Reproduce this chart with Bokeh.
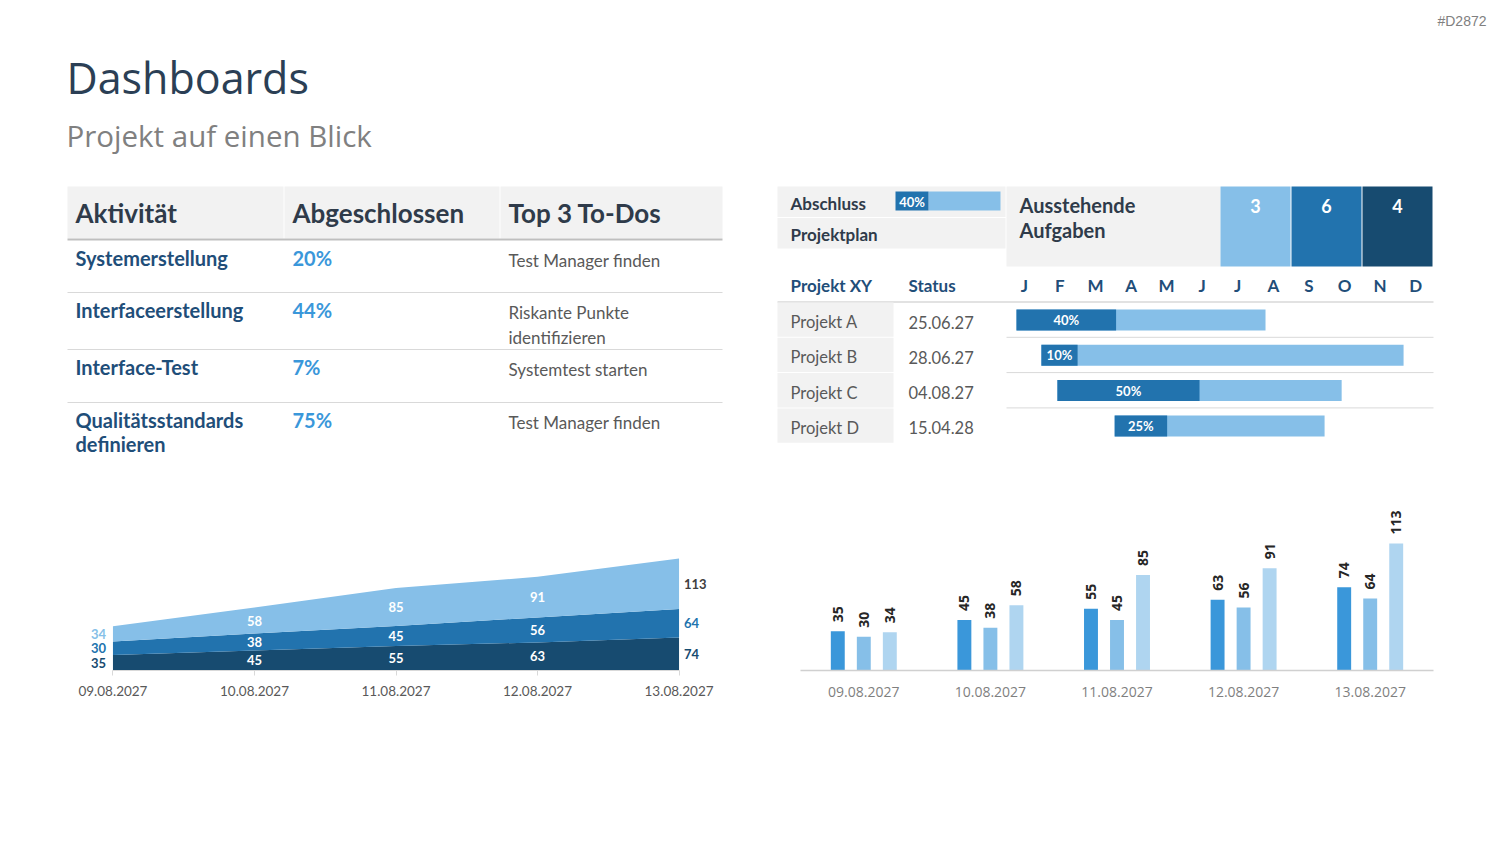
import numpy as np
from bokeh.plotting import figure
from bokeh.layouts import column, row
from bokeh.models import ColumnDataSource, Range1d, FixedTicker, FactorRange
from bokeh.transform import dodge
from bokeh.core.properties import value
from bokeh.embed import file_html
from bokeh.resources import INLINE

# ---------------- data ----------------
title = "Dashboards"
subtitle = "Projekt auf einen Blick"
tag = "#D2872"

table_headers = ["Aktivität", "Abgeschlossen", "Top 3 To-Dos"]
activities = [["Systemerstellung"], ["Interfaceerstellung"], ["Interface-Test"],
              ["Qualitätsstandards", "definieren"]]
completed = ["20%", "44%", "7%", "75%"]
todos = [["Test Manager finden"], ["Riskante Punkte", "identifizieren"],
         ["Systemtest starten"], ["Test Manager finden"]]

abschluss_label = "40%"
pending_counts = [3, 6, 4]
months = ["J", "F", "M", "A", "M", "J", "J", "A", "S", "O", "N", "D"]
projects = ["Projekt A", "Projekt B", "Projekt C", "Projekt D"]
status_dates = ["25.06.27", "28.06.27", "04.08.27", "15.04.28"]
gantt_start = [0.28, 0.98, 1.43, 3.04]
gantt_end = [7.28, 11.16, 9.42, 8.94]
gantt_progress = [40, 10, 50, 25]

dates = ["09.08.2027", "10.08.2027", "11.08.2027", "12.08.2027", "13.08.2027"]
series_a = [35, 45, 55, 63, 74]
series_b = [30, 38, 45, 56, 64]
series_c = [34, 58, 85, 91, 113]

# ---------------- style ----------------
FONT_T = "Open Sans"
FONT = "Lato"
NAVY = "#174B70"
MID = "#2273AE"
LIGHT = "#86BFE8"
BAR1 = "#3A97DA"
BAR3 = "#AFD5F0"
GRAYBG = "#F2F2F2"
HEAD = "#2F3B4A"
DBLUE = "#1F4E79"
PCT = "#3A97DA"
TXT = "#595959"
LINE = "#D9D9D9"


def canvas(w, h, y0):
    p = figure(width=w, height=h, x_range=Range1d(0, w), y_range=Range1d(y0 + h, y0),
               x_axis_type=None, y_axis_type=None, output_backend="svg",
               toolbar_location=None, min_border=0)
    p.grid.visible = False
    p.outline_line_color = None
    return p


def txt(p, x, y, s, size, color, bold=False, align="left", font=FONT, **kw):
    p.text(x=[x], y=[y], text=[s], text_font=value(font), text_font_size=f"{size}px",
           text_font_style="bold" if bold else "normal", text_color=color,
           text_align=align, text_baseline="middle", **kw)


# ---------------- header ----------------
hdr = canvas(1500, 175, 0)
txt(hdr, 66, 77, title, 43, "#2B3F55", font=FONT_T)
txt(hdr, 66, 135, subtitle, 29.5, "#808080", font=FONT_T)
txt(hdr, 1486, 20, tag, 14, "#808080", align="right", font="Liberation Sans")

# ---------------- middle: table + project block ----------------
mid = canvas(1500, 305, 175)

# left table
col_l = [67, 284, 500]
col_r = [283, 499, 722]
mid.quad(left=col_l, right=col_r, top=[186] * 3, bottom=[238] * 3, color=GRAYBG, line_color=None)
mid.segment(x0=[67], y0=[239], x1=[722], y1=[239], line_color="#BFBFBF", line_width=2)
for j, h in enumerate(table_headers):
    txt(mid, col_l[j] + 8, 212.5, h, 26, HEAD, bold=True)

row_tops = [240, 292, 349, 402]
mid.segment(x0=[67] * 3, y0=row_tops[1:], x1=[722] * 3, y1=row_tops[1:], line_color=LINE, line_width=1)
for i in range(len(activities)):
    t = row_tops[i]
    for k, line in enumerate(activities[i]):
        txt(mid, col_l[0] + 8, t + 17.5 + 24 * k, line, 20, DBLUE, bold=True)
    txt(mid, col_l[1] + 8, t + 17.5, completed[i], 20, PCT, bold=True)
    for k, line in enumerate(todos[i]):
        txt(mid, col_l[2] + 8, t + 20 + 25 * k, line, 17, TXT)

# right block: Abschluss / Projektplan
mid.quad(left=[777, 777], right=[1005, 1005], top=[186, 217.5], bottom=[216.5, 248], color=GRAYBG, line_color=None)
txt(mid, 790, 203, "Abschluss", 17, HEAD, bold=True)
txt(mid, 790, 234, "Projektplan", 17, HEAD, bold=True)
mid.quad(left=[928], right=[1000], top=[191], bottom=[210], color=LIGHT, line_color=None)
mid.quad(left=[895], right=[928], top=[191], bottom=[210], color=MID, line_color=None)
txt(mid, 911.5, 201, abschluss_label, 13, "white", bold=True, align="center")

# Ausstehende Aufgaben
mid.quad(left=[1006], right=[1220], top=[186], bottom=[266], color=GRAYBG, line_color=None)
txt(mid, 1019, 204, "Ausstehende", 20, HEAD, bold=True)
txt(mid, 1019, 229, "Aufgaben", 20, HEAD, bold=True)
box_colors = [LIGHT, MID, NAVY]
for i, n in enumerate(pending_counts):
    left = 1220 + 71 * i
    mid.quad(left=[left], right=[left + 70], top=[186], bottom=[266], color=box_colors[i], line_color=None)
    txt(mid, left + 35, 205, str(n), 18, "white", bold=True, align="center")

# Gantt
GX0 = 1006.0
MW = 35.58
mid.extra_x_ranges = {"m": Range1d(-GX0 / MW, (1500 - GX0) / MW)}
txt(mid, 790, 285, "Projekt XY", 17, DBLUE, bold=True)
txt(mid, 908, 285, "Status", 17, DBLUE, bold=True)
mid.text(x=[m + 0.5 for m in range(12)], y=[284.5] * 12, text=months, x_range_name="m",
         text_font=value(FONT), text_font_size="17px", text_font_style="bold",
         text_color=DBLUE, text_align="center", text_baseline="middle")
mid.segment(x0=[777], y0=[301.5], x1=[1433], y1=[301.5], line_color=LINE, line_width=1.5)

RH = 35.3
for i in range(len(projects)):
    top = 302 + RH * i
    mid.quad(left=[777, 894], right=[893, 1005], top=[top], bottom=[top + RH - 1], color=GRAYBG, line_color=None)
    if i < len(projects) - 1:
        mid.segment(x0=[1006], y0=[top + RH - 0.5], x1=[1433], y1=[top + RH - 0.5], line_color=LINE, line_width=1)
    txt(mid, 790, top + 19.5, projects[i], 16.5, TXT)
    txt(mid, 908, top + 19.5, status_dates[i], 16.5, TXT)

gs = np.array(gantt_start)
ge = np.array(gantt_end)
gp = np.array(gantt_progress) / 100.0
gy = [302 + RH * i + 17.5 for i in range(len(projects))]
gsrc = ColumnDataSource(dict(y=gy, s=gs, e=ge, p=gs + (ge - gs) * gp,
                             c=gs + (ge - gs) * gp / 2, lbl=[f"{v}%" for v in gantt_progress]))
mid.hbar(y="y", left="s", right="e", height=21, color=LIGHT, line_color=None, source=gsrc, x_range_name="m")
mid.hbar(y="y", left="s", right="p", height=21, color=MID, line_color=None, source=gsrc, x_range_name="m")
mid.text(x="c", y="y", text="lbl", source=gsrc, x_range_name="m", text_font=value(FONT),
         text_font_size="13px", text_font_style="bold", text_color="white",
         text_align="center", text_baseline="middle")

# ---------------- bottom left: stacked area ----------------
SA = 0.446
pa = figure(width=740, height=364, x_range=Range1d(-0.3, 4.3), y_range=Range1d(0, 190 / SA),
            min_border_left=70, min_border_right=19, min_border_top=0, min_border_bottom=174,
            y_axis_type=None, output_backend="svg", toolbar_location=None)
pa.grid.visible = False
pa.outline_line_color = None
xs = list(range(len(dates)))
asrc = ColumnDataSource(dict(x=xs, a=series_a, b=series_b, c=series_c))
pa.varea_stack(stackers=["a", "b", "c"], x="x", color=[NAVY, MID, LIGHT], source=asrc)
pa.xaxis.ticker = FixedTicker(ticks=xs)
pa.xaxis.major_label_overrides = {i: d for i, d in enumerate(dates)}
pa.xaxis.bounds = (0, len(dates) - 1)
pa.xaxis.axis_line_color = LINE
pa.xaxis.major_tick_line_color = LINE
pa.xaxis.major_tick_in = 0
pa.xaxis.major_tick_out = 5
pa.xaxis.minor_tick_line_color = None
pa.xaxis.major_label_standoff = 10
pa.xaxis.major_label_text_font = FONT
pa.xaxis.major_label_text_font_size = "13.5px"
pa.xaxis.major_label_text_color = TXT

series = [series_a, series_b, series_c]
base = np.zeros(len(dates))
left_colors = [NAVY, MID, LIGHT]
right_colors = [NAVY, MID, "#404040"]
for k, s in enumerate(series):
    s = np.array(s, dtype=float)
    mids = base + s / 2
    lbl = [str(int(v)) for v in s]
    pa.text(x=xs[1:-1], y=mids[1:-1], text=lbl[1:-1], text_font=value(FONT), text_font_size="13px",
            text_font_style="bold", text_color="white", text_align="center", text_baseline="middle")
    pa.text(x=[xs[0]], y=[mids[0]], text=[lbl[0]], x_offset=-7, text_font=value(FONT),
            text_font_size="13px", text_font_style="bold", text_color=left_colors[k],
            text_align="right", text_baseline="middle")
    pa.text(x=[xs[-1]], y=[mids[-1]], text=[lbl[-1]], x_offset=5, text_font=value(FONT),
            text_font_size="13px", text_font_style="bold", text_color=right_colors[k],
            text_align="left", text_baseline="middle")
    base = base + s

# ---------------- bottom right: grouped bars ----------------
SB = 1.124
pb = figure(width=760, height=364, x_range=FactorRange(*dates, factor_padding=0, range_padding=0),
            y_range=Range1d(0, 190 / SB),
            min_border_left=60, min_border_right=67, min_border_top=0, min_border_bottom=174,
            y_axis_type=None, output_backend="svg", toolbar_location=None)
pb.grid.visible = False
pb.outline_line_color = None
bsrc = ColumnDataSource(dict(d=dates, a=series_a, b=series_b, c=series_c,
                             la=[str(v) for v in series_a], lb=[str(v) for v in series_b],
                             lc=[str(v) for v in series_c]))
OFF = 0.2055
for key, lkey, off, col in [("a", "la", -OFF, BAR1), ("b", "lb", 0.0, LIGHT), ("c", "lc", OFF, BAR3)]:
    pb.vbar(x=dodge("d", off, range=pb.x_range), top=key, width=0.11, color=col, line_color=None, source=bsrc)
    pb.text(x=dodge("d", off, range=pb.x_range), y=key, text=lkey, source=bsrc, angle=np.pi / 2,
            y_offset=-9, text_font=value("Open Sans"), text_font_size="14px", text_font_style="bold",
            text_color="#262626", text_align="left", text_baseline="middle")
pb.xaxis.axis_line_color = "#D0D0D0"
pb.xaxis.axis_line_width = 1.5
pb.xaxis.major_tick_line_color = None
pb.xaxis.minor_tick_line_color = None
pb.xaxis.major_label_standoff = 10
pb.xaxis.major_label_text_font = "Open Sans"
pb.xaxis.major_label_text_font_size = "14px"
pb.xaxis.major_label_text_color = "#7F7F7F"

layout = column(hdr, mid, row(pa, pb, spacing=0), spacing=0)
open("out.html", "w").write(file_html(layout, INLINE))
